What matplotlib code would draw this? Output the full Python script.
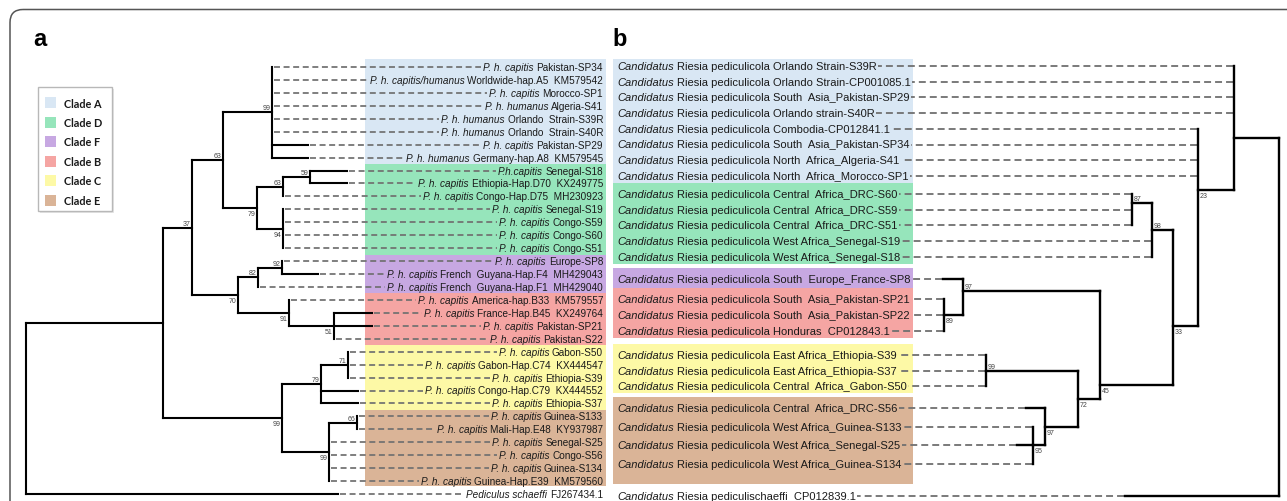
import matplotlib
matplotlib.use("Agg")
import matplotlib.pyplot as plt
from matplotlib.patches import Rectangle, FancyBboxPatch

# ---------------- DATA ----------------
clade_names = ["Clade A", "Clade D", "Clade F", "Clade B", "Clade C", "Clade E"]
clade_colors = ["#d9e7f4", "#96e5bb", "#c7a8e2", "#f5a5a3", "#fdf9a6", "#dab497"]

# Panel a: louse mitochondrial tree (tips top->bottom)
a_italic = ["P. h. capitis", "P. h. capitis/humanus", "P. h. capitis", "P. h. humanus",
            "P. h. humanus", "P. h. humanus", "P. h. capitis", "P. h. humanus",
            "P.h.capitis", "P. h. capitis", "P. h. capitis", "P. h. capitis",
            "P. h. capitis", "P. h. capitis", "P. h. capitis", "P. h. capitis",
            "P. h. capitis", "P. h. capitis", "P. h. capitis", "P. h. capitis",
            "P. h. capitis", "P. h. capitis", "P. h. capitis", "P. h. capitis",
            "P. h. capitis", "P. h. capitis", "P. h. capitis", "P. h. capitis",
            "P. h. capitis", "P. h. capitis", "P. h. capitis", "P. h. capitis",
            "P. h. capitis", "Pediculus schaeffi"]
a_rest = ["Pakistan-SP34", "Worldwide-hap.A5  KM579542", "Morocco-SP1", "Algeria-S41",
          "Orlando  Strain-S39R", "Orlando  Strain-S40R", "Pakistan-SP29", "Germany-hap.A8  KM579545",
          "Senegal-S18", "Ethiopia-Hap.D70  KX249775", "Congo-Hap.D75  MH230923", "Senegal-S19",
          "Congo-S59", "Congo-S60", "Congo-S51", "Europe-SP8",
          "French  Guyana-Hap.F4  MH429043", "French  Guyana-Hap.F1  MH429040",
          "America-hap.B33  KM579557", "France-Hap.B45  KX249764",
          "Pakistan-SP21", "Pakistan-S22", "Gabon-S50", "Gabon-Hap.C74  KX444547",
          "Ethiopia-S39", "Congo-Hap.C79  KX444552", "Ethiopia-S37", "Guinea-S133",
          "Mali-Hap.E48  KY937987", "Senegal-S25", "Congo-S56", "Guinea-S134",
          "Guinea-Hap.E39  KM579560", "FJ267434.1"]
a_clade = [0]*8 + [1]*7 + [2]*3 + [3]*4 + [4]*5 + [5]*6 + [None]

# internal nodes: name -> (depth from root, bootstrap, children)
a_tree = {
    "root": (0, None, ["n1", 33]),
    "n1": (137, None, ["n37", "nCE"]),
    "n37": (166, 37, ["n63", "n70"]),
    "n63": (197, 63, ["nA", "nD"]),
    "nA": (246, 99, [0, 1, 2, 3, 4, 5, 6, 7]),
    "nD": (231, 79, ["n63b", "n94"]),
    "n63b": (257, 63, ["n59", 10]),
    "n59": (284, 59, [8, 9]),
    "n94": (257, 94, [11, 12, 13, 14]),
    "n70": (212, 70, ["n82", "n91"]),
    "n82": (232, 82, ["n92", 17]),
    "n92": (256, 92, [15, 16]),
    "n91": (263, 91, [18, "n51"]),
    "n51": (308, 51, [19, 20, 21]),
    "nCE": (256, 99, ["n79C", "n99E"]),
    "n79C": (295, 79, ["n71", 25, 26]),
    "n71": (322, 71, [22, 23, 24]),
    "n99E": (303, 99, ["n66", 29, 30, 31, 32]),
    "n66": (331, 66, [27, 28]),
}
a_tip_depth = {6: 282, 7: 282, 8: 321, 9: 321, 16: 292, 19: 346, 20: 346,
               25: 332, 26: 332, 33: 312}

# Panel b: Candidatus Riesia tree (tips top->bottom)
b_rest = ["Riesia pediculicola Orlando Strain-S39R", "Riesia pediculicola Orlando Strain-CP001085.1",
          "Riesia pediculicola South  Asia_Pakistan-SP29", "Riesia pediculicola Orlando strain-S40R",
          "Riesia pediculicola Combodia-CP012841.1", "Riesia pediculicola South  Asia_Pakistan-SP34",
          "Riesia pediculicola North  Africa_Algeria-S41", "Riesia pediculicola North  Africa_Morocco-SP1",
          "Riesia pediculicola Central  Africa_DRC-S60", "Riesia pediculicola Central  Africa_DRC-S59",
          "Riesia pediculicola Central  Africa_DRC-S51", "Riesia pediculicola West Africa_Senegal-S19",
          "Riesia pediculicola West Africa_Senegal-S18", "Riesia pediculicola South  Europe_France-SP8",
          "Riesia pediculicola South  Asia_Pakistan-SP21", "Riesia pediculicola South  Asia_Pakistan-SP22",
          "Riesia pediculicola Honduras  CP012843.1", "Riesia pediculicola East Africa_Ethiopia-S39",
          "Riesia pediculicola East Africa_Ethiopia-S37", "Riesia pediculicola Central  Africa_Gabon-S50",
          "Riesia pediculicola Central  Africa_DRC-S56", "Riesia pediculicola West Africa_Guinea-S133",
          "Riesia pediculicola West Africa_Senegal-S25", "Riesia pediculicola West Africa_Guinea-S134",
          "Riesia pediculischaeffi  CP012839.1"]
b_italic = ["Candidatus"] * len(b_rest)
b_clade = [0]*8 + [1]*5 + [2] + [3]*3 + [4]*3 + [5]*4 + [6]

b_tree = {
    "root": (0, None, ["top", 24]),
    "top": (45, None, [0, 1, 2, 3, "n23"]),
    "n23": (81, 23, [4, 5, 6, 7, "n33"]),
    "n33": (106, 33, ["n98", "n45"]),
    "n98": (127, 98, ["n87", 11, 12]),
    "n87": (147, 87, [8, 9, 10]),
    "n45": (179, 45, ["n97", "n72"]),
    "n97": (316, 97, [13, "n89"]),
    "n89": (335, 89, [14, 15, 16]),
    "n72": (201, 72, ["n99", "n97b"]),
    "n99": (293, 99, [17, 18, 19]),
    "n97b": (234, 97, [20, "n95"]),
    "n95": (246, 95, [21, 22, 23]),
}
b_tip_depth = {13: 336, 20: 253, 22: 262, 24: 154}

# ---------------- LAYOUT ----------------
W, H = 1287, 502
plt.rcParams["lines.scale_dashes"] = False
TXT = ["Liberation Sans", "DejaVu Sans"]

fig = plt.figure(figsize=(W / 100, H / 100), dpi=100)
ax = fig.add_axes([0, 0, 1, 1])
ax.set_xlim(0, W)
ax.set_ylim(H, 0)
ax.axis("off")
rend = fig.canvas.get_renderer()
inv = ax.transData.inverted()


def xext(t):
    bb = t.get_window_extent(renderer=rend)
    (x0, _), (x1, _) = inv.transform([[bb.x0, bb.y0], [bb.x1, bb.y1]])
    return min(x0, x1), max(x0, x1)


# border
ax.add_patch(FancyBboxPatch((10, 10.5), 1320, 560, boxstyle="round,pad=0,rounding_size=13",
                            fc="none", ec="#555555", lw=1.1, zorder=0))
ax.text(33, 39, "a", fontsize=17, fontweight="bold", family=TXT, va="center", ha="left")
ax.text(612, 39, "b", fontsize=17, fontweight="bold", family=TXT, va="center", ha="left")

# legend
ax.add_patch(Rectangle((40, 90), 74, 124, fc="#e6e6e6", ec="none", zorder=1))
ax.add_patch(Rectangle((38, 88), 74, 124, fc="white", ec="#b8b8b8", lw=1.0, zorder=2))
for i, (nm, c) in enumerate(zip(clade_names, clade_colors)):
    yc = 104 + i * 19.5
    ax.add_patch(Rectangle((45, yc - 6), 11, 11, fc=c, ec="none", zorder=3))
    ax.text(64, yc, nm, fontsize=7.8, fontweight="bold", family=["Lato", "DejaVu Sans"],
            va="center", ha="left", color="#1a1a1a", zorder=3)

# tip positions
a_y = [68 + 12.94 * i for i in range(len(a_rest))]
b_gaps = {1: 2.5, 2: 6.5, 3: 4.5, 4: 8.5, 5: 6.0, 6: 17.0}
b_y = []
y = 67.0
for i, c in enumerate(b_clade):
    if i > 0:
        y += 18.6 if (c == 5 and b_clade[i - 1] == 5) else 15.7
        if c != b_clade[i - 1]:
            y += b_gaps[c]
    b_y.append(y)

# clade bands
a_x0, a_x1 = 365, 606
for k in range(6):
    idx = [i for i, c in enumerate(a_clade) if c == k]
    top = a_y[idx[0]] - 8 if k == 0 else (a_y[idx[0]] + a_y[idx[0] - 1]) / 2
    bot = a_y[idx[-1]] + 5 if k == 5 else (a_y[idx[-1]] + a_y[idx[-1] + 1]) / 2
    ax.add_patch(Rectangle((a_x0, top), a_x1 - a_x0, bot - top, fc=clade_colors[k], ec="none", zorder=1))
b_x0, b_x1 = 613, 913
for k in range(6):
    idx = [i for i, c in enumerate(b_clade) if c == k]
    top = b_y[idx[0]] - (7 if k == 0 else 11)
    bot = b_y[idx[-1]] + (20 if k == 5 else (11 if k == 2 else 7))
    ax.add_patch(Rectangle((b_x0, top), b_x1 - b_x0, bot - top, fc=clade_colors[k], ec="none", zorder=1))

# tip labels
a_left = []
for i in range(len(a_rest)):
    t2 = ax.text(603, a_y[i], a_rest[i], fontsize=7.2, family=TXT, ha="right", va="center",
                 color="#1a1a1a", zorder=4)
    l2, _ = xext(t2)
    t1 = ax.text(l2 - 2.8, a_y[i], a_italic[i], fontsize=7.2, family=TXT, style="italic",
                 ha="right", va="center", color="#1a1a1a", zorder=4)
    l1, _ = xext(t1)
    a_left.append(l1)

b_right = []
for i in range(len(b_rest)):
    t1 = ax.text(617, b_y[i], b_italic[i], fontsize=8.0, family=TXT, style="italic",
                 ha="left", va="center", color="#1a1a1a", zorder=4)
    _, r1 = xext(t1)
    t2 = ax.text(r1 + 2.8, b_y[i], b_rest[i], fontsize=8.0, family=TXT, ha="left", va="center",
                 color="#1a1a1a", zorder=4)
    _, r2 = xext(t2)
    b_right.append(r2)

SOLID = dict(color="black", lw=1.5, solid_capstyle="projecting", zorder=3)
DASH_A = dict(color="#707070", lw=1.25, linestyle=(0, (4.3, 2.6)), zorder=2)
DASH_B = dict(color="#707070", lw=1.3, linestyle=(0, (5.0, 2.9)), zorder=2)
BS = dict(fontsize=5.0, family=TXT, color="#444444", zorder=4)

b_attach_override = {"top": 139, "n23": 191, "n33": 327, "n87": 204, "n97": 292, "n45": 386}


def draw_tree(tree, tip_depth, tip_y, root_x, sign, label_edge, dash, attach_override, bs_side):
    def xpos(d):
        return root_x + sign * d

    attach = {}

    def lay(node):
        if isinstance(node, int):
            return tip_y[node]
        ys = [lay(c) for c in tree[node][2]]
        a = attach_override.get(node, (min(ys) + max(ys)) / 2)
        attach[node] = (a, ys)
        return a

    lay("root")
    first_child = set()
    for nm, (d, bs, ch) in tree.items():
        if not isinstance(ch[0], int):
            first_child.add(ch[0])
    for nm, (d, bs, ch) in tree.items():
        x = xpos(d)
        a, ys = attach[nm]
        lo = min(ys + ([a] if nm != "root" else []))
        hi = max(ys + ([a] if nm != "root" else []))
        ax.plot([x, x], [lo, hi], **SOLID)
        for c, yc in zip(ch, ys):
            if isinstance(c, int):
                xs = x
                if c in tip_depth:
                    xs = xpos(tip_depth[c])
                    ax.plot([x, xs], [yc, yc], **SOLID)
                xe = label_edge[c] - sign * 2
                ax.plot([xs + sign * 1.5, xe], [yc, yc], **dash)
            else:
                ax.plot([x, xpos(tree[c][0])], [yc, yc], **SOLID)
        if bs is not None:
            dy = -4.5 if nm in first_child else 5.5
            if bs_side < 0:
                ax.text(x - 1.5, a + dy, str(bs), ha="right", va="center", **BS)
            else:
                ax.text(x + 2, a + dy, str(bs), ha="left", va="center", **BS)


draw_tree(a_tree, a_tip_depth, a_y, 26, 1, a_left, DASH_A, {}, -1)
SOLID["lw"] = 1.7
draw_tree(b_tree, b_tip_depth, b_y, 1279, -1, b_right, DASH_B, b_attach_override, 1)

fig.savefig("out.png", dpi=100, facecolor="white")
